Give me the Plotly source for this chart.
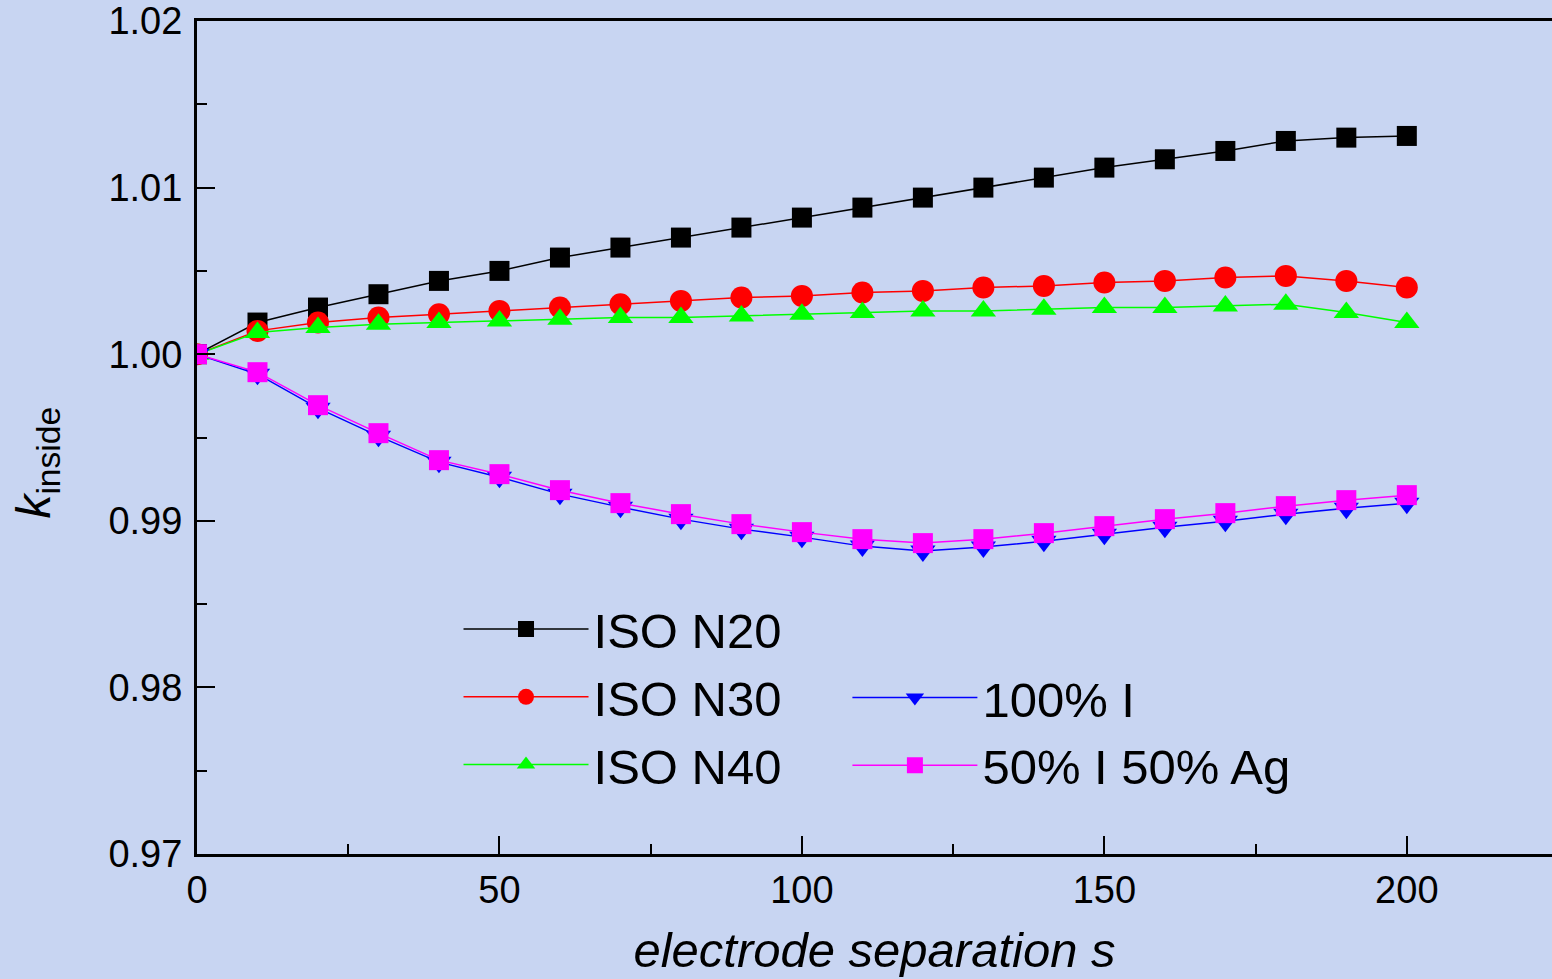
import plotly.graph_objects as go

s = [0, 10, 20, 30, 40, 50, 60, 70, 80, 90, 100, 110, 120, 130, 140, 150, 160, 170, 180, 190, 200]

iso_n20 = [1.0000, 1.0019, 1.0028, 1.0036, 1.0044, 1.0050, 1.0058, 1.0064, 1.0070, 1.0076, 1.0082,
           1.0088, 1.0094, 1.0100, 1.0106, 1.0112, 1.0117, 1.0122, 1.0128, 1.0130, 1.0131]
iso_n30 = [1.0000, 1.0014, 1.0019, 1.0022, 1.0024, 1.0026, 1.0028, 1.0030, 1.0032, 1.0034, 1.0035,
           1.0037, 1.0038, 1.0040, 1.0041, 1.0043, 1.0044, 1.0046, 1.0047, 1.0044, 1.0040]
iso_n40 = [1.0000, 1.0013, 1.0016, 1.0018, 1.0019, 1.0020, 1.0021, 1.0022, 1.0022, 1.0023, 1.0024,
           1.0025, 1.0026, 1.0026, 1.0027, 1.0028, 1.0028, 1.0029, 1.0030, 1.0025, 1.0019]
i100 = [1.0000, 0.99880, 0.99676, 0.99508, 0.99352, 0.99262, 0.99160, 0.99082, 0.99010, 0.98950, 0.98902,
        0.98848, 0.98818, 0.98842, 0.98878, 0.98920, 0.98962, 0.98998, 0.99040, 0.99076, 0.99106]
i50ag50 = [1.0000, 0.99892, 0.99694, 0.99526, 0.99364, 0.99280, 0.99184, 0.99106, 0.99040, 0.98980, 0.98932,
           0.98890, 0.98866, 0.98890, 0.98926, 0.98968, 0.99010, 0.99046, 0.99088, 0.99124, 0.99154]

series = [
    ("ISO N20", iso_n20, "#000000", "square", 20, "legend"),
    ("ISO N30", iso_n30, "#ff0000", "circle", 22, "legend"),
    ("ISO N40", iso_n40, "#00ff00", "triangle-up", 22, "legend"),
    ("100% I", i100, "#0000ff", "triangle-down", 22, "legend2"),
    ("50% I 50% Ag", i50ag50, "#ff00ff", "square", 20, "legend2"),
]

FONT = "Liberation Sans, Arial, sans-serif"
BG = "#c8d5f2"

fig = go.Figure()
for name, vals, col, sym, size, leg in series:
    fig.add_trace(go.Scatter(
        x=s, y=vals, name=name, mode="lines+markers",
        line=dict(color=col, width=1.5),
        marker=dict(color=col, symbol=sym, size=size, line=dict(width=0)),
        legend=leg, legendgroup=name,
    ))

fig.update_layout(
    width=1552, height=979,
    margin=dict(l=197, r=0, t=21, b=125),
    paper_bgcolor=BG, plot_bgcolor=BG,
    font=dict(family=FONT, color="#000000", size=38),
    xaxis=dict(
        range=[0, 224], dtick=50, tick0=0,
        showline=True, linecolor="#000000", linewidth=3, mirror=True,
        ticks="inside", ticklen=18, tickwidth=2, tickcolor="#000000",
        minor=dict(dtick=25, ticks="inside", ticklen=10, tickwidth=2, tickcolor="#000000"),
        showgrid=False, zeroline=False,
        tickfont=dict(size=38),
        title=dict(text="<i>electrode separation s</i>", font=dict(size=49), standoff=24),
    ),
    yaxis=dict(
        range=[0.97, 1.02], dtick=0.01, tick0=0.97, tickformat=".2f",
        showline=True, linecolor="#000000", linewidth=3,
        ticks="inside", ticklen=18, tickwidth=2, tickcolor="#000000",
        minor=dict(dtick=0.005, ticks="inside", ticklen=10, tickwidth=2, tickcolor="#000000"),
        showgrid=False, zeroline=False,
        tickfont=dict(size=38), ticklabelstandoff=4,
    ),
    annotations=[dict(
        text="<i>k</i><sub>inside</sub>", textangle=-90,
        xref="paper", yref="paper", x=-0.118, y=0.47,
        xanchor="center", yanchor="middle", showarrow=False,
        font=dict(size=48, family=FONT, color="#000000"),
    )],
    legend=dict(
        x=0.193, y=0.316, xanchor="left", yanchor="top",
        bgcolor="rgba(0,0,0,0)", borderwidth=0,
        font=dict(size=49), itemwidth=125, tracegroupgap=1,
    ),
    legend2=dict(
        x=0.480, y=0.234, xanchor="left", yanchor="top",
        bgcolor="rgba(0,0,0,0)", borderwidth=0,
        font=dict(size=49), itemwidth=125, tracegroupgap=1,
    ),
)

fig.write_html("out.html")
